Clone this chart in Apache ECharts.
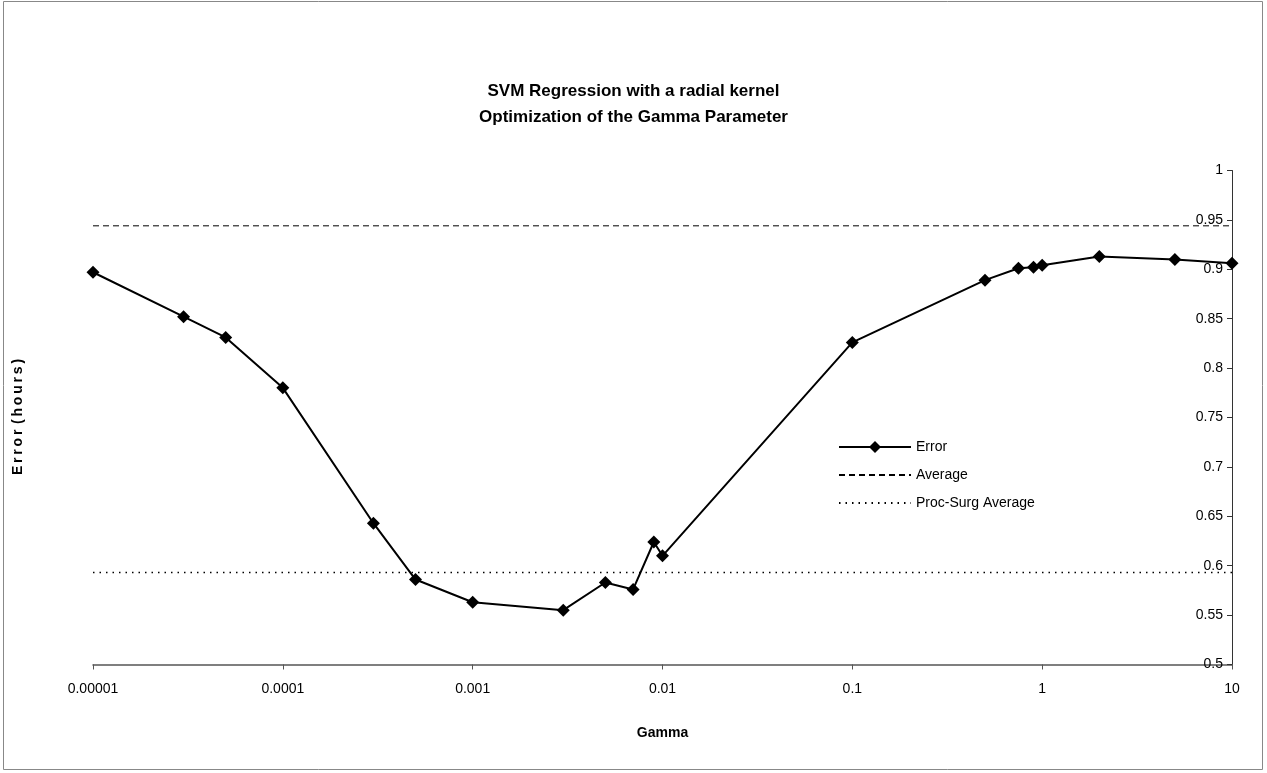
<!DOCTYPE html>
<html>
<head>
<meta charset="utf-8">
<script src="https://cdn.jsdelivr.net/npm/echarts@6/dist/echarts.min.js"></script>
<style>
html,body{margin:0;padding:0;background:#fff;}
#chart{width:1267px;height:773px;}
</style>
</head>
<body>
<div id="chart"></div>
<script>
var gamma = [0.00001, 0.00003, 0.00005, 0.0001, 0.0003, 0.0005, 0.001, 0.003, 0.005, 0.007, 0.009, 0.01, 0.1, 0.5, 0.75, 0.9, 1, 2, 5, 10];
var errorValues = [0.897, 0.852, 0.831, 0.780, 0.643, 0.586, 0.563, 0.555, 0.583, 0.576, 0.624, 0.610, 0.826, 0.889, 0.901, 0.902, 0.904, 0.913, 0.910, 0.906];
var averageValue = 0.944;
var procSurgAverageValue = 0.593;
var xRange = [0.00001, 10];
var xTickLabels = ['0.00001', '0.0001', '0.001', '0.01', '0.1', '1', '10'];
var yTickLabels = ['0.5', '0.55', '0.6', '0.65', '0.7', '0.75', '0.8', '0.85', '0.9', '0.95', '1'];

var SANS = "'Liberation Sans', Arial, sans-serif";
var chart = echarts.init(document.getElementById('chart'));

var errorData = gamma.map(function (g, i) { return [g, errorValues[i]]; });
var avgData = xRange.map(function (g) { return [g, averageValue]; });
var procData = xRange.map(function (g) { return [g, procSurgAverageValue]; });

chart.setOption({
  animation: false,
  backgroundColor: '#fff',
  title: {
    text: 'SVM Regression with a radial kernel\nOptimization of the Gamma Parameter',
    left: 'center',
    top: 73,
    textStyle: { fontFamily: SANS, fontSize: 17, fontWeight: 'bold', color: '#000', lineHeight: 26 }
  },
  grid: { left: 93, right: 35, top: 170.5, bottom: 108.5, containLabel: false },
  legend: {
    orient: 'vertical',
    left: 833,
    top: 435,
    itemWidth: 72,
    itemHeight: 15,
    itemGap: 14,
    textStyle: { fontFamily: SANS, fontSize: 14, color: '#000' },
    data: [
      { name: 'Error' },
      { name: 'Average', itemStyle: { opacity: 0 } },
      { name: 'Proc-Surg Average', itemStyle: { opacity: 0 } }
    ]
  },
  xAxis: {
    type: 'log',
    logBase: 10,
    min: xRange[0],
    max: xRange[1],
    name: 'Gamma',
    nameLocation: 'middle',
    nameGap: 62,
    nameTextStyle: { fontFamily: SANS, fontSize: 14, fontWeight: 'bold', color: '#000' },
    axisLine: { lineStyle: { color: '#555', width: 1.5 } },
    axisTick: { show: true, length: 5, lineStyle: { color: '#555' } },
    axisLabel: {
      fontFamily: SANS, fontSize: 14, color: '#000', margin: 18,
      formatter: function (v) {
        var idx = Math.round(Math.log10(v)) + 5;
        return xTickLabels[idx] !== undefined ? xTickLabels[idx] : '';
      }
    },
    splitLine: { show: false }
  },
  yAxis: {
    type: 'value',
    position: 'right',
    min: 0.5,
    max: 1,
    interval: 0.05,
    axisLine: { show: true, lineStyle: { color: '#333', width: 1 } },
    axisTick: { show: true, inside: true, length: 5, lineStyle: { color: '#333' } },
    axisLabel: {
      inside: true, margin: 9,
      fontFamily: SANS, fontSize: 14, color: '#000',
      formatter: function (v) {
        var idx = Math.round((v - 0.5) / 0.05);
        return yTickLabels[idx] !== undefined ? yTickLabels[idx] : '';
      }
    },
    splitLine: { show: false }
  },
  graphic: [
    {
      type: 'rect',
      shape: { x: 3.5, y: 1.5, width: 1259, height: 768 },
      style: { fill: 'none', stroke: '#888', lineWidth: 1 },
      silent: true
    },
    {
      type: 'text',
      x: 18,
      y: 417,
      rotation: Math.PI / 2,
      style: {
        text: 'E r r o r  ( h o u r s )'.replace(/ /g, '\u2009'),
        fontFamily: SANS,
        fontSize: 14,
        fontWeight: 'bold',
        fill: '#000',
        textAlign: 'center',
        textVerticalAlign: 'middle'
      }
    }
  ],
  series: [
    {
      name: 'Error',
      type: 'line',
      data: errorData,
      symbol: 'diamond',
      symbolSize: 13,
      lineStyle: { color: '#000', width: 2 },
      itemStyle: { color: '#000' },
      z: 5
    },
    {
      name: 'Average',
      type: 'line',
      data: avgData,
      symbol: 'none',
      lineStyle: { color: '#000', width: 1, type: [6, 4] },
      itemStyle: { color: '#000' }
    },
    {
      name: 'Proc-Surg Average',
      type: 'line',
      data: procData,
      symbol: 'none',
      lineStyle: { color: '#000', width: 1.5, type: [1.5, 5] },
      itemStyle: { color: '#000' }
    }
  ]
});
</script>
</body>
</html>
